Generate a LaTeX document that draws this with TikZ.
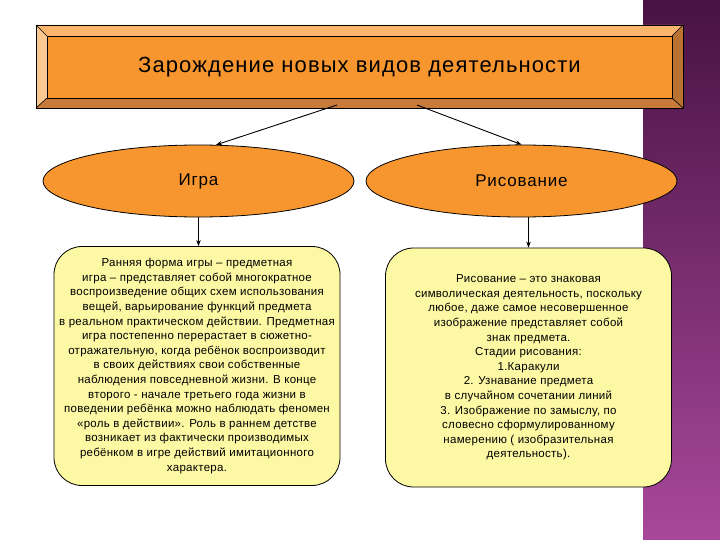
\documentclass[tikz,border=0pt]{standalone}
\usepackage{fontspec}
\setmainfont{Liberation Sans}
\newfontfamily\titlefont[LetterSpace=5]{Liberation Sans}
\newfontfamily\ovalfont[LetterSpace=5]{Liberation Sans}
\newfontfamily\notefont[LetterSpace=2.5]{Liberation Sans}
\usetikzlibrary{arrows.meta,shapes.geometric,positioning}

\definecolor{orangefill}{RGB}{247,150,47}
\definecolor{bevtop}{RGB}{250,180,108}
\definecolor{bevleft}{RGB}{252,200,146}
\definecolor{bevbottom}{RGB}{200,122,58}
\definecolor{bevright}{RGB}{186,114,48}
\definecolor{notefill}{RGB}{252,248,164}
\definecolor{purpletop}{RGB}{72,18,68}
\definecolor{purplebot}{RGB}{168,72,154}

\tikzset{
  oval/.style={ellipse, draw, line width=0.8pt, fill=orangefill, minimum width=311pt,
    minimum height=72pt, inner sep=0pt, font=\ovalfont\fontsize{17}{20}\selectfont},
  notebox/.style={draw, line width=0.8pt, fill=notefill, rounded corners=28pt,
    minimum width=286pt, minimum height=239pt, inner sep=0pt, align=center,
    font=\notefont\fontsize{11.5}{14.6}\selectfont},
}

\begin{document}
\begin{tikzpicture}[x=1pt, y=-1pt, >={Stealth[length=6pt,width=4.5pt]}]
    % Canvas and purple stripe
    \useasboundingbox (0,0) rectangle (720,540);
    \fill[white] (0,0) rectangle (720,540);
    \shade[top color=purpletop, bottom color=purplebot] (643,0) rectangle (720,540);

    % Bevelled title frame
    \fill[bevtop] (36,25) -- (683,25) -- (672,36) -- (47,36) -- cycle;
    \fill[bevleft] (36,25) -- (47,36) -- (47,98) -- (36,108) -- cycle;
    \fill[bevbottom] (36,108) -- (47,98) -- (672,98) -- (683,108) -- cycle;
    \fill[bevright] (683,25) -- (683,108) -- (672,98) -- (672,36) -- cycle;
    \draw[line width=0.8pt] (36,25) rectangle (683,108);
    \draw[line width=0.6pt] (36,25) -- (47,36) (683,25) -- (672,36)
        (36,108) -- (47,98) (683,108) -- (672,98);
    \node[draw, line width=0.6pt, fill=orangefill, minimum width=625pt, minimum height=62pt,
        inner sep=0pt, font=\titlefont\fontsize{22}{26}\selectfont] (title) at (359.5,67)
        {\raisebox{-2pt}{Зарождение новых видов деятельности}};
    \coordinate (titleL) at (337,105);
    \coordinate (titleR) at (417,105);

    % Kinds of activity
    \node[oval] (igra) at (198.5,181) {\raisebox{-2pt}{Игра}};
    \node[oval] (risovanie) at (521.5,181) {\raisebox{-2pt}{Рисование}};

    % Descriptions
    \node[notebox] (igratext) at (197,366) {Ранняя форма игры – предметная\\
        игра – представляет собой многократное\\
        воспроизведение общих схем использования\\
        вещей, варьирование функций предмета\\
        в реальном практическом действии. Предметная\\
        игра постепенно перерастает в сюжетно-\\
        отражательную, когда ребёнок воспроизводит\\
        в своих действиях свои собственные\\
        наблюдения повседневной жизни. В конце\\
        второго - начале третьего года жизни в\\
        поведении ребёнка можно наблюдать феномен\\
        «роль в действии». Роль в раннем детстве\\
        возникает из фактически производимых\\
        ребёнком в игре действий имитационного\\
        характера.};
    \node[notebox] (risovtext) at (528.5,367.5) {Рисование – это знаковая\\
        символическая деятельность, поскольку\\
        любое, даже самое несовершенное\\
        изображение представляет собой\\
        знак предмета.\\
        Стадии рисования:\\
        1.Каракули\\
        2. Узнавание предмета\\
        в случайном сочетании линий\\
        3. Изображение по замыслу, по\\
        словесно сформулированному\\
        намерению ( изобразительная\\
        деятельность).};

    % Arrows
    \draw[->, line width=0.9pt] (titleL) -- (igra.64);
    \draw[->, line width=0.9pt] (titleR) -- (risovanie.north);
    \draw[->, line width=0.9pt] (igra.south) -- (igra.south |- igratext.north);
    \draw[->, line width=0.9pt] (risovtext.north |- risovanie.south) -- (risovtext.north);
\end{tikzpicture}
\end{document}
